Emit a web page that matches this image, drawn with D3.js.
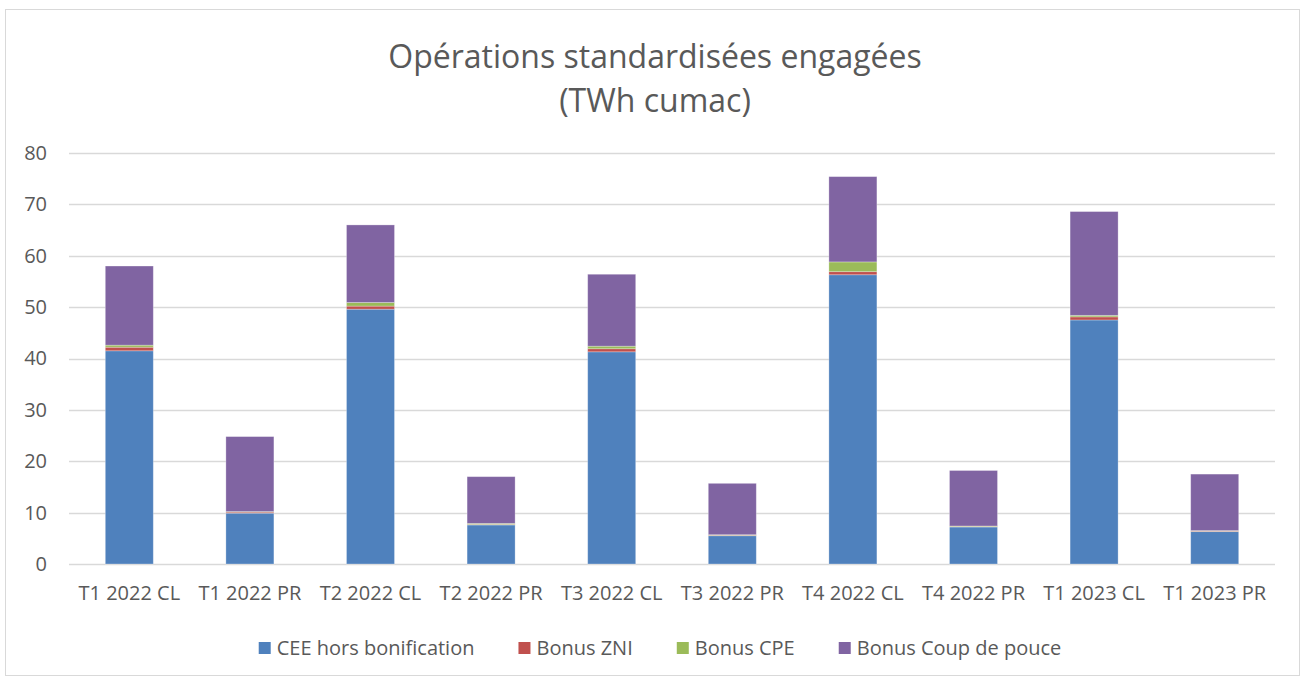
<!DOCTYPE html>
<html>
<head>
<meta charset="utf-8">
<script src="https://cdn.jsdelivr.net/npm/d3@7"></script>
<style>
  body { margin: 0; background: #fff; }
  text { font-family: "Open Sans", "Liberation Sans", sans-serif; fill: #595959; }
</style>
</head>
<body>
<script>
// quarters, CL = classique, PR = precarite
var categories = ["T1 2022 CL", "T1 2022 PR", "T2 2022 CL", "T2 2022 PR", "T3 2022 CL",
                  "T3 2022 PR", "T4 2022 CL", "T4 2022 PR", "T1 2023 CL", "T1 2023 PR"];

var seriesNames = ["CEE hors bonification", "Bonus ZNI", "Bonus CPE", "Bonus Coup de pouce"];
var seriesColors = ["#4F81BD", "#C0504D", "#9BBB59", "#8064A2"];

// values (TWh cumac)
var ceeHors   = [41.5, 9.9, 49.6, 7.6, 41.3, 5.5, 56.3, 7.2, 47.5, 6.3];
var bonusZni  = [0.7, 0.2, 0.6, 0.1, 0.6, 0.1, 0.6, 0.1, 0.6, 0.1];
var bonusCpe  = [0.4, 0.1, 0.7, 0.2, 0.5, 0.1, 1.9, 0.1, 0.3, 0.1];
var bonusCdp  = [15.4, 14.6, 15.1, 9.1, 14.0, 10.0, 16.6, 10.8, 20.2, 11.0];

var yTicks = [0, 10, 20, 30, 40, 50, 60, 70, 80];

var W = 1304, H = 679;
var svg = d3.select("body").append("svg")
  .attr("width", W)
  .attr("height", H);

// chart border
svg.append("rect")
  .attr("x", 5.5).attr("y", 9.5)
  .attr("width", 1294).attr("height", 666)
  .attr("fill", "#fff")
  .attr("stroke", "#d9d9d9");

// title
svg.append("text")
  .attr("x", 655).attr("y", 68)
  .attr("text-anchor", "middle")
  .attr("font-size", 32)
  .text("Opérations standardisées engagées");
svg.append("text")
  .attr("x", 655).attr("y", 112)
  .attr("text-anchor", "middle")
  .attr("font-size", 32)
  .text("(TWh cumac)");

var plotLeft = 69, plotRight = 1275, plotTop = 153, plotBottom = 564;

var x = d3.scaleBand()
  .domain(categories)
  .range([plotLeft, plotRight]);

var y = d3.scaleLinear()
  .domain([0, 80])
  .range([plotBottom, plotTop]);

// gridlines
svg.append("g")
  .selectAll("line")
  .data(yTicks)
  .enter()
  .append("line")
  .attr("x1", plotLeft).attr("x2", plotRight)
  .attr("y1", function(d) { return Math.round(y(d)) + 0.5; })
  .attr("y2", function(d) { return Math.round(y(d)) + 0.5; })
  .attr("stroke", "#d9d9d9")
  .attr("stroke-width", 1.3);

// y axis labels
var yAxis = d3.axisLeft(y).tickValues(yTicks).tickSize(0).tickPadding(0);
var yg = svg.append("g")
  .attr("transform", "translate(47,0)")
  .call(yAxis);
yg.select(".domain").remove();
yg.selectAll("text").attr("font-size", 20).attr("fill", "#595959")
  .attr("font-family", "'Open Sans', sans-serif");

// stack
var rows = categories.map(function(c, i) {
  return { cat: c, s0: ceeHors[i], s1: bonusZni[i], s2: bonusCpe[i], s3: bonusCdp[i] };
});
var stack = d3.stack().keys(["s0", "s1", "s2", "s3"]);
var layers = stack(rows);

var barW = 48;
svg.append("g")
  .selectAll("g")
  .data(layers)
  .enter()
  .append("g")
  .attr("fill", function(d, i) { return seriesColors[i]; })
  .selectAll("rect")
  .data(function(d) { return d; })
  .enter()
  .append("rect")
  .attr("x", function(d) { return x(d.data.cat) + x.bandwidth() / 2 - barW / 2; })
  .attr("y", function(d) { return y(d[1]); })
  .attr("width", barW)
  .attr("height", function(d) { return y(d[0]) - y(d[1]); })
  .attr("stroke", "#ffffff")
  .attr("stroke-opacity", 0.35)
  .attr("stroke-width", 0.8);

// x axis labels
var xAxis = d3.axisBottom(x).tickSize(0).tickPadding(0);
var xg = svg.append("g")
  .attr("transform", "translate(0," + (plotBottom + 30) + ")")
  .call(xAxis);
xg.select(".domain").remove();
xg.selectAll("text").attr("font-size", 20).attr("fill", "#595959").attr("dy", "0.32em")
  .attr("font-family", "'Open Sans', sans-serif");

// legend
var legend = svg.append("g");
var lx = 0;
var gap = 44;
var items = legend.selectAll("g")
  .data(seriesNames)
  .enter()
  .append("g");
items.append("rect")
  .attr("width", 12).attr("height", 12)
  .attr("y", -6)
  .attr("fill", function(d, i) { return seriesColors[i]; });
items.append("text")
  .attr("x", 18)
  .attr("dy", "0.35em")
  .attr("font-size", 20)
  .text(function(d) { return d; });
items.each(function() {
  var g = d3.select(this);
  g.attr("transform", "translate(" + lx + ",0)");
  lx += 18 + g.select("text").node().getComputedTextLength() + gap;
});
lx -= gap;
legend.attr("transform", "translate(" + (660 - lx / 2) + ",648)");
</script>
</body>
</html>
